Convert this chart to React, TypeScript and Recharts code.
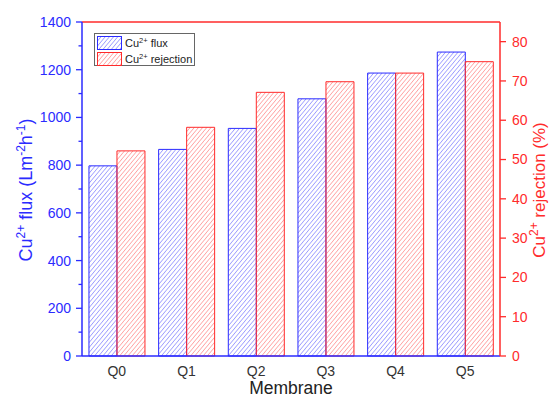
import { BarChart, Bar, XAxis, YAxis, ReferenceLine, Label } from 'recharts';

// Membrane samples on the x axis
const membranes = ['Q0', 'Q1', 'Q2', 'Q3', 'Q4', 'Q5'];
// Cu2+ flux, L m-2 h-1 (left axis)
const flux = [797, 866, 954, 1078, 1186, 1274];
// Cu2+ rejection, % (right axis)
const rejection = [52.2, 58.2, 67.1, 69.8, 72.0, 74.9];

const fluxTicks = [0, 100, 200, 300, 400, 500, 600, 700, 800, 900, 1000, 1100, 1200, 1300, 1400];
const rejectionTicks = [0, 10, 20, 30, 40, 50, 60, 70, 80];

const BLUE = '#2b2bff';
const RED = '#ff2b2b';
const FONT = 'Arial, "Liberation Sans", sans-serif';

const data = membranes.map((name, i) => ({ name, flux: flux[i], rejection: rejection[i] }));

// left axis tick: long tick + label every 200, short minor tick in between
const FluxTick = (props: any) => {
  const { x, y, payload } = props;
  const major = payload.value % 200 === 0;
  const axisX = x + 11;
  return (
    <g>
      <line x1={axisX - (major ? 6 : 3.5)} x2={axisX} y1={y} y2={y} stroke={BLUE} strokeWidth={1.3} />
      {major && (
        <text x={x} y={y} dy="0.36em" textAnchor="end" fill={BLUE} fontSize={14} fontFamily={FONT}>
          {payload.value}
        </text>
      )}
    </g>
  );
};

const HatchSwatch = ({ id, color }: { id: string; color: string }) => (
  <svg width={25} height={14} style={{ display: 'block' }}>
    <rect x={0.5} y={0.5} width={24} height={13} fill={`url(#${id})`} stroke={color} strokeWidth={1} />
  </svg>
);

const legendItems = [
  { label: 'flux', id: 'hatchBlue', color: BLUE },
  { label: 'rejection', id: 'hatchRed', color: RED },
];

export default function App() {
  return (
    <div style={{ position: 'absolute', left: 0, top: 0, width: 550, height: 399, background: '#fff' }}>
      <BarChart
        width={550}
        height={399}
        data={data}
        margin={{ top: 22, right: 0, bottom: 0, left: 0 }}
        barCategoryGap="10%"
        barGap={0}
      >
        <defs>
          <pattern id="hatchBlue" patternUnits="userSpaceOnUse" width={3.2} height={3.2} patternTransform="rotate(40)">
            <line x1={0} y1={0} x2={0} y2={3.2} stroke="#7070ff" strokeWidth={1.1} />
          </pattern>
          <pattern id="hatchRed" patternUnits="userSpaceOnUse" width={3.2} height={3.2} patternTransform="rotate(40)">
            <line x1={0} y1={0} x2={0} y2={3.2} stroke="#ff7878" strokeWidth={1.1} />
          </pattern>
        </defs>
        <XAxis
          dataKey="name"
          height={43}
          tickLine={false}
          tickSize={0}
          tickMargin={10}
          axisLine={{ stroke: BLUE, strokeWidth: 1.5 }}
          tick={{ fill: '#333', fontSize: 14, fontFamily: FONT }}
        >
          <Label
            content={() => (
              <text x={291} y={394} textAnchor="middle" fill="#222" fontSize={17.5} fontFamily={FONT}>
                Membrane
              </text>
            )}
          />
        </XAxis>
        <YAxis
          yAxisId="left"
          width={82}
          domain={[0, 1400]}
          ticks={fluxTicks}
          interval={0}
          tickLine={false}
          tickSize={6}
          tickMargin={5}
          axisLine={{ stroke: BLUE, strokeWidth: 1.5 }}
          tick={<FluxTick />}
        >
          <Label
            content={() => (
              <text transform="translate(31.5,190) rotate(-90)" textAnchor="middle" fill={BLUE} fontSize={18} fontFamily={FONT}>
                Cu<tspan dy={-7} fontSize={12}>2+</tspan>
                <tspan dy={7}> flux (Lm</tspan>
                <tspan dy={-7} fontSize={12}>-2</tspan>
                <tspan dy={7}>h</tspan>
                <tspan dy={-7} fontSize={12}>-1</tspan>
                <tspan dy={7}>)</tspan>
              </text>
            )}
          />
        </YAxis>
        <YAxis
          yAxisId="right"
          orientation="right"
          width={50}
          domain={[0, 85]}
          ticks={rejectionTicks}
          interval={0}
          tickSize={6}
          tickMargin={6}
          axisLine={{ stroke: RED, strokeWidth: 1.5 }}
          tickLine={{ stroke: RED, strokeWidth: 1.3 }}
          tick={{ fill: RED, fontSize: 14, fontFamily: FONT }}
        >
          <Label
            content={() => (
              <text transform="translate(545,190) rotate(-90)" textAnchor="middle" fill={RED} fontSize={17} fontFamily={FONT}>
                Cu<tspan dy={-7} fontSize={12}>2+</tspan>
                <tspan dy={7}> rejection (%)</tspan>
              </text>
            )}
          />
        </YAxis>
        <ReferenceLine yAxisId="left" y={1400} stroke={RED} strokeWidth={1.5} />
        <Bar yAxisId="left" dataKey="flux" fill="url(#hatchBlue)" stroke={BLUE} strokeWidth={1} isAnimationActive={false} />
        <Bar yAxisId="right" dataKey="rejection" fill="url(#hatchRed)" stroke={RED} strokeWidth={1} isAnimationActive={false} />
      </BarChart>
      <div
        style={{
          position: 'absolute',
          left: 94,
          top: 33,
          width: 97,
          height: 30,
          border: '1px solid #666',
          background: '#fff',
          fontFamily: FONT,
          fontSize: 11,
          color: '#222',
          padding: '1px 0 0 2px',
        }}
      >
        {legendItems.map((item) => (
          <div key={item.id} style={{ display: 'flex', alignItems: 'center', height: 15, marginBottom: 1 }}>
            <HatchSwatch id={item.id} color={item.color} />
            <span style={{ marginLeft: 3 }}>
              Cu<sup style={{ fontSize: 7.5, verticalAlign: 4 }}>2+</sup> {item.label}
            </span>
          </div>
        ))}
      </div>
    </div>
  );
}
